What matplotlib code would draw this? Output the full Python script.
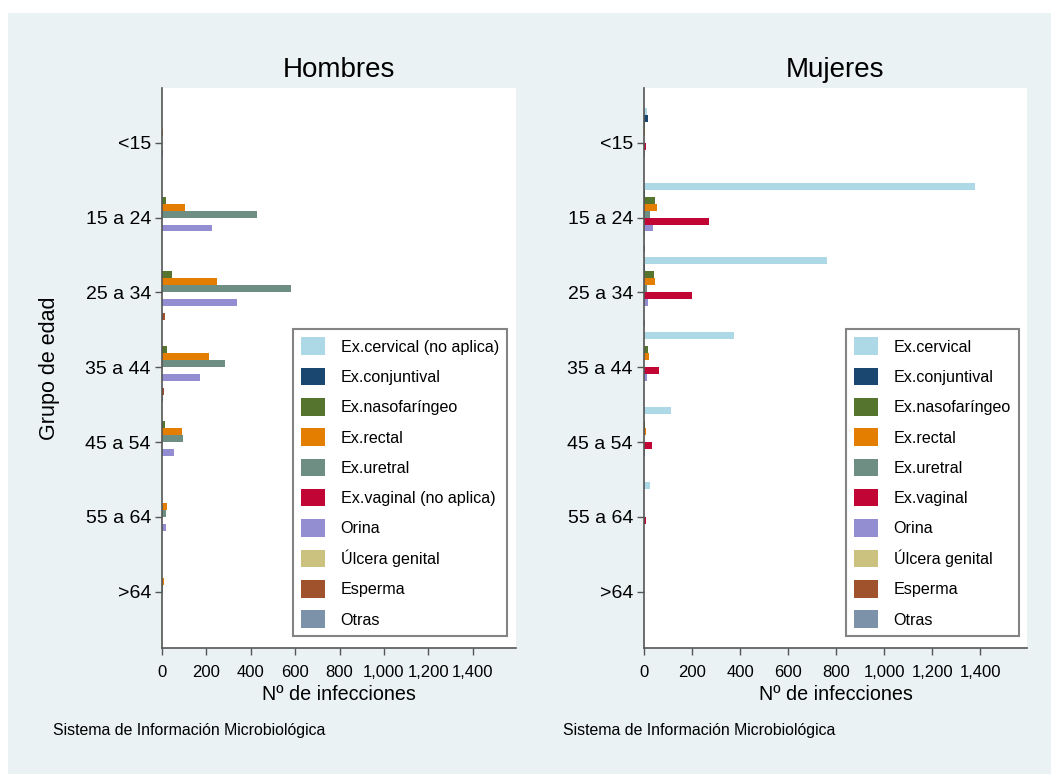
import numpy as np
import matplotlib
matplotlib.use('Agg')
import matplotlib.pyplot as plt
from matplotlib.patches import Rectangle

plt.rcParams['font.family'] = ['Liberation Sans', 'DejaVu Sans']

# datos
grupos = ['<15', '15 a 24', '25 a 34', '35 a 44', '45 a 54', '55 a 64', '>64']
muestras = ['Ex.cervical', 'Ex.conjuntival', 'Ex.nasofaríngeo', 'Ex.rectal', 'Ex.uretral',
            'Ex.vaginal', 'Orina', 'Úlcera genital', 'Esperma', 'Otras']
etiquetas_h = ['Ex.cervical (no aplica)', 'Ex.conjuntival', 'Ex.nasofaríngeo', 'Ex.rectal',
               'Ex.uretral', 'Ex.vaginal (no aplica)', 'Orina', 'Úlcera genital', 'Esperma', 'Otras']
colores = ['#ADD8E6', '#1A476F', '#55752F', '#E37E00', '#6E8E84',
           '#C10534', '#938DD2', '#CAC27E', '#A0522D', '#7B92A8']

# Hombres
h_cervical = [0, 0, 0, 0, 0, 0, 0]
h_conjuntival = [2, 1, 1, 1, 0, 0, 0]
h_nasofaringeo = [1, 20, 44, 24, 12, 2, 1]
h_rectal = [3, 102, 247, 210, 89, 21, 8]
h_uretral = [2, 427, 580, 283, 93, 17, 6]
h_vaginal = [0, 0, 0, 0, 0, 0, 0]
h_orina = [3, 224, 339, 170, 53, 17, 2]
h_ulcera = [0, 1, 1, 1, 0, 0, 0]
h_esperma = [1, 2, 12, 8, 2, 1, 1]
h_otras = [1, 1, 2, 6, 2, 1, 2]

# Mujeres
m_cervical = [12, 1380, 762, 375, 112, 25, 2]
m_conjuntival = [17, 3, 3, 1, 0, 0, 0]
m_nasofaringeo = [3, 46, 42, 17, 3, 2, 0]
m_rectal = [3, 54, 46, 21, 8, 2, 0]
m_uretral = [1, 25, 12, 2, 1, 0, 0]
m_vaginal = [8, 271, 200, 62, 33, 8, 2]
m_orina = [3, 37, 17, 12, 3, 2, 1]
m_ulcera = [1, 6, 2, 1, 2, 1, 0]
m_esperma = [0, 1, 1, 1, 0, 0, 0]
m_otras = [2, 3, 5, 2, 1, 1, 1]

hombres = [h_cervical, h_conjuntival, h_nasofaringeo, h_rectal, h_uretral,
           h_vaginal, h_orina, h_ulcera, h_esperma, h_otras]
mujeres = [m_cervical, m_conjuntival, m_nasofaringeo, m_rectal, m_uretral,
           m_vaginal, m_orina, m_ulcera, m_esperma, m_otras]

fondo = '#EAF2F3'
fig = plt.figure(figsize=(10.51, 7.74), dpi=100, facecolor='white')
fig.patches.append(Rectangle((8 / 1051, 0), 1, 1 - 13 / 774, transform=fig.transFigure,
                             facecolor=fondo, edgecolor='none', zorder=-10))

ax1 = fig.add_axes([162 / 1051, 1 - 648 / 774, 354 / 1051, 560 / 774])
ax2 = fig.add_axes([644 / 1051, 1 - 648 / 774, 383 / 1051, 560 / 774])

y = np.arange(len(grupos))
bw = 0.0933


def panel(ax, series, etiquetas, titulo, leg_x):
    for j, (vals, col, lab) in enumerate(zip(series, colores, etiquetas)):
        ax.barh(y + (j - 4.5) * bw, vals, height=bw, color=col, label=lab, linewidth=0)
    ax.set_xlim(0, 1595)
    ax.set_ylim(6.75, -0.73)
    ax.set_yticks(y)
    ax.set_yticklabels(grupos, fontsize=14)
    ax.set_xticks(range(0, 1401, 200))
    ax.set_xticklabels([f'{v:,}' for v in range(0, 1401, 200)], fontsize=12)
    ax.set_xlabel('Nº de infecciones', fontsize=14.2, labelpad=4)
    ax.set_title(titulo, fontsize=20, pad=8)
    for s in ['top', 'right']:
        ax.spines[s].set_visible(False)
    for s in ['left', 'bottom']:
        ax.spines[s].set_color('#555555')
        ax.spines[s].set_linewidth(1.2)
    ax.tick_params(axis='both', colors='#555555', labelcolor='black', length=5, width=1)
    ax.tick_params(axis='y', pad=3)
    ax.tick_params(axis='x', pad=7)
    leg = ax.legend(loc='lower right', bbox_to_anchor=(leg_x, 1 - 636 / 774),
                    bbox_transform=fig.transFigure, borderaxespad=0, fontsize=11.6,
                    frameon=True, fancybox=False, handlelength=1.45, handleheight=1.3,
                    labelspacing=0.79, handletextpad=1.0, borderpad=0.5)
    leg.get_frame().set_edgecolor('#666666')
    leg.get_frame().set_linewidth(1.5)


panel(ax1, hombres, etiquetas_h, 'Hombres', 507 / 1051)
panel(ax2, mujeres, muestras, 'Mujeres', 1019 / 1051)
ax1.set_ylabel('Grupo de edad', fontsize=15.5)
ax1.yaxis.set_label_coords((60 - 162) / 354, 0.5)

fig.text(53 / 1051, 1 - 730 / 774, 'Sistema de Información Microbiológica', fontsize=11.4, va='center')
fig.text(563 / 1051, 1 - 730 / 774, 'Sistema de Información Microbiológica', fontsize=11.4, va='center')

fig.savefig('out.png', dpi=100, facecolor=fig.get_facecolor())
